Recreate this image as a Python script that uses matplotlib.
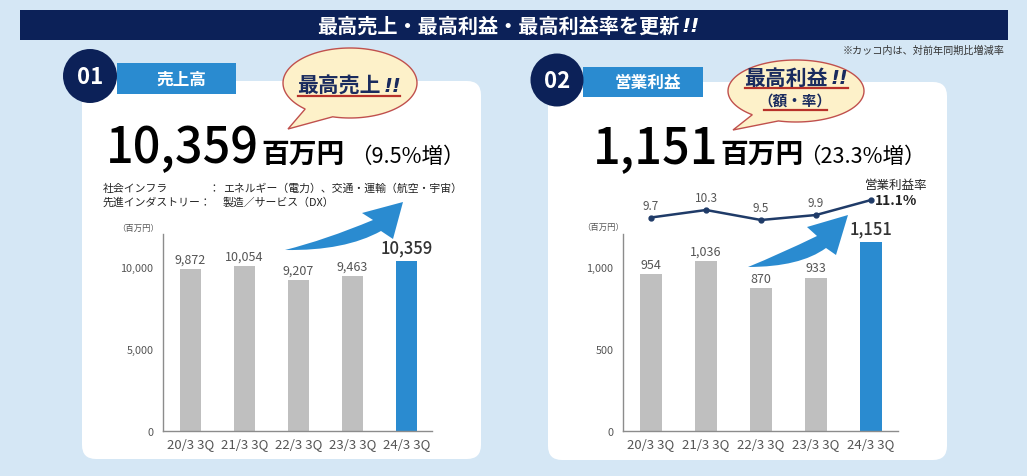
import matplotlib
matplotlib.use('Agg')
import matplotlib.pyplot as plt
import numpy as np
from matplotlib.patches import FancyBboxPatch, Circle, Rectangle, PathPatch, Polygon
from matplotlib.path import Path

plt.rcParams['font.family'] = ['Noto Sans CJK JP', 'DejaVu Sans']

# データ
periods = ['20/3 3Q', '21/3 3Q', '22/3 3Q', '23/3 3Q', '24/3 3Q']
sales = [9872, 10054, 9207, 9463, 10359]
op_profit = [954, 1036, 870, 933, 1151]
op_margin = [9.7, 10.3, 9.5, 9.9, 11.1]

W, H = 1027, 477
BG = '#d5e7f5'
NAVY = '#0c2158'
BLUE = '#2a8bd0'
GRAY_BAR = '#bfbfbf'
TXT = '#222222'
TICK = '#555555'
LINE = '#1f3b68'

fig = plt.figure(figsize=(W / 100, H / 100), dpi=100)
fig.patch.set_facecolor(BG)

bg = fig.add_axes([0, 0, 1, 1])
bg.set_xlim(0, W)
bg.set_ylim(H, 0)
bg.axis('off')


def px_axes(x0, y0, x1, y1):
    ax = fig.add_axes([x0 / W, 1 - y1 / H, (x1 - x0) / W, (y1 - y0) / H])
    ax.patch.set_alpha(0)
    return ax


# タイトルバー
bg.add_patch(Rectangle((20, 11), 988, 30, facecolor=NAVY, edgecolor='none'))
bg.text(679, 26, '最高売上・最高利益・最高利益率を更新', color='white', fontsize=14.5,
        fontweight='bold', ha='right', va='center')
bg.text(682, 26, '!!', color='white', fontsize=14.5, fontweight='bold',
        style='italic', family=['DejaVu Sans'], ha='left', va='center')
bg.text(1005, 51, '※カッコ内は、対前年同期比増減率', color='#333333', fontsize=7.3,
        ha='right', va='center')

# カード
for x0, y0, x1, y1 in [(82, 82, 481, 460), (548, 83, 947, 461)]:
    bg.add_patch(FancyBboxPatch((x0, y0), x1 - x0, y1 - y0,
                                boxstyle='round,pad=0,rounding_size=14',
                                facecolor='white', edgecolor='none'))

# 見出し（番号・タブ）
for (cx, cy, r), (tx0, ty0, tx1, ty1), num, label in [
        ((90, 77, 27), (117, 64, 236, 95), '01', '売上高'),
        ((557, 81, 26.5), (583, 68, 703, 98), '02', '営業利益')]:
    bg.add_patch(Rectangle((tx0, ty0), tx1 - tx0, ty1 - ty0, facecolor=BLUE,
                           edgecolor='none'))
    bg.add_patch(Circle((cx, cy), r, facecolor=NAVY, edgecolor='none'))
    bg.text(cx, cy + 1, num, color='white', fontsize=16, fontweight='bold',
            ha='center', va='center')
    bg.text((tx0 + tx1) / 2 + 5, (ty0 + ty1) / 2, label, color='white',
            fontsize=12, fontweight='bold', ha='center', va='center')


# 吹き出し
def bubble(cx, cy, a, b, tip, t1, t2):
    th = np.radians(np.linspace(t2, t1 + 360, 120))
    pts = [(cx + a * np.cos(t), cy + b * np.sin(t)) for t in th]
    pts.append(tip)
    bg.add_patch(Polygon(pts, closed=True, facecolor='#fdf1c9',
                         edgecolor='#c0504d', lw=1.0))


bubble(350, 84, 67, 35, (288, 130), 105, 132)
bubble(796, 92, 68, 31, (733, 131), 105, 130)

RED = '#b8322a'
BNAVY = '#1a2b5e'
bg.text(381, 86, '最高売上', color=BNAVY, fontsize=15, fontweight='bold',
        ha='right', va='center')
bg.text(384, 86, '!!', color=BNAVY, fontsize=14, fontweight='bold', style='italic',
        family=['DejaVu Sans'], ha='left', va='center')
bg.plot([298, 400], [97, 97], color=RED, lw=1.6)

bg.text(828, 78, '最高利益', color=BNAVY, fontsize=15, fontweight='bold',
        ha='right', va='center')
bg.text(831, 78, '!!', color=BNAVY, fontsize=14, fontweight='bold', style='italic',
        family=['DejaVu Sans'], ha='left', va='center')
bg.plot([745, 848], [89, 89], color=RED, lw=1.6)
bg.text(795, 101, '（額・率）', color=BNAVY, fontsize=10.5, fontweight='bold',
        ha='center', va='center')
bg.plot([764, 827], [111, 111], color=RED, lw=1.6)

# 大きな数字
bg.text(259, 163, '10,359', color='black', fontsize=35, fontweight='medium',
        ha='right', va='baseline')
bg.text(261, 163, '百万円', color='black', fontsize=20, fontweight='bold',
        ha='left', va='baseline')
bg.text(350, 163, '（9.5%増）', color='black', fontsize=15.5, ha='left', va='baseline')

bg.text(718, 163, '1,151', color='black', fontsize=35, fontweight='medium',
        ha='right', va='baseline')
bg.text(720, 163, '百万円', color='black', fontsize=20, fontweight='bold',
        ha='left', va='baseline')
bg.text(799, 163, '（23.3%増）', color='black', fontsize=15.5, ha='left', va='baseline')

# 説明文
bg.text(103, 189, '社会インフラ', color=TXT, fontsize=7.8, ha='left', va='center')
bg.text(208, 189, '：', color=TXT, fontsize=7.8, ha='left', va='center')
bg.text(223, 189, 'エネルギー（電力）、交通・運輸（航空・宇宙）', color=TXT, fontsize=7.8,
        ha='left', va='center')
bg.text(103, 203, '先進インダストリー：', color=TXT, fontsize=7.8, ha='left', va='center')
bg.text(223, 203, '製造／サービス（DX）', color=TXT, fontsize=7.8, ha='left', va='center')


# 矢印
def swoosh(T, c_low, B1, H1, tip, H2, B2, c_up):
    verts = [T, c_low, B1, H1, tip, H2, B2, c_up, T, T]
    codes = [Path.MOVETO, Path.CURVE3, Path.CURVE3, Path.LINETO, Path.LINETO,
             Path.LINETO, Path.LINETO, Path.CURVE3, Path.CURVE3, Path.CLOSEPOLY]
    bg.add_patch(PathPatch(Path(verts, codes), facecolor=BLUE, edgecolor='none',
                           zorder=5))


swoosh((285, 251), (345, 252), (381, 232), (393, 240), (403, 203), (362, 214),
       (373, 221), (325, 241))
swoosh((748, 268), (800, 268), (826, 249), (836, 256), (848, 216), (807, 228),
       (817, 237), (780, 255))

colors = [GRAY_BAR] * (len(periods) - 1) + [BLUE]
x = np.arange(len(periods))


def style_axes(ax, xlim, ylim, yticks):
    ax.set_xlim(*xlim)
    ax.set_ylim(*ylim)
    ax.set_xticks(x)
    ax.set_xticklabels(periods, fontsize=9.5, color=TICK)
    ax.set_yticks(yticks)
    ax.set_yticklabels([f'{v:,}' for v in yticks], fontsize=7.8, color=TICK)
    ax.tick_params(axis='both', length=0)
    ax.tick_params(axis='y', pad=7)
    ax.tick_params(axis='x', pad=4)
    for s in ['top', 'right']:
        ax.spines[s].set_visible(False)
    for s in ['left', 'bottom']:
        ax.spines[s].set_color('#8c8c8c')
        ax.spines[s].set_linewidth(1.0)


def bar_labels(ax, vals):
    for i, v in enumerate(vals):
        last = i == len(vals) - 1
        ax.annotate(f'{v:,}', (i, v), xytext=(0, 3 if last else 2.5),
                    textcoords='offset points', ha='center', va='bottom',
                    fontsize=12 if last else 9, color='#333333' if last else TICK,
                    fontweight='medium' if last else 'normal')


# 売上高チャート
ax1 = px_axes(163, 235, 432, 432)
ax1.bar(x, sales, width=0.39, color=colors)
style_axes(ax1, (-0.51, 4.47), (0, 12000), [0, 5000, 10000])
bar_labels(ax1, sales)
bg.text(138, 228, '（百万円）', color=TICK, fontsize=6, ha='center', va='center')

# 営業利益チャート
ax2 = px_axes(623, 235, 898, 432)
ax2.bar(x, op_profit, width=0.4, color=colors)
style_axes(ax2, (-0.51, 4.49), (0, 1200), [0, 500, 1000])
bar_labels(ax2, op_profit)
bg.text(603, 227, '（百万円）', color=TICK, fontsize=6, ha='center', va='center')

# 営業利益率ライン
ax3 = px_axes(623, 190, 898, 232)
ax3.axis('off')
ax3.set_xlim(-0.51, 4.49)
ax3.set_ylim(8.62, 11.98)
ax3.plot(x, op_margin, color=LINE, lw=1.8, marker='o', markersize=3.5)
for i, v in enumerate(op_margin[:-1]):
    ax3.annotate(f'{v}', (i, v), xytext=(0, 4), textcoords='offset points',
                 ha='center', va='bottom', fontsize=8.5, color=TICK)
ax3.annotate(f'{op_margin[-1]}%', (x[-1], op_margin[-1]), xytext=(3, 0),
             textcoords='offset points', ha='left', va='center', fontsize=10,
             fontweight='bold', color='#222222')
ax3.annotate('営業利益率', (x[-1], op_margin[-1]), xytext=(18, 11),
             textcoords='offset points', ha='center', va='center', fontsize=9,
             color='#222222')

fig.savefig('out.png', dpi=100, facecolor=BG)
